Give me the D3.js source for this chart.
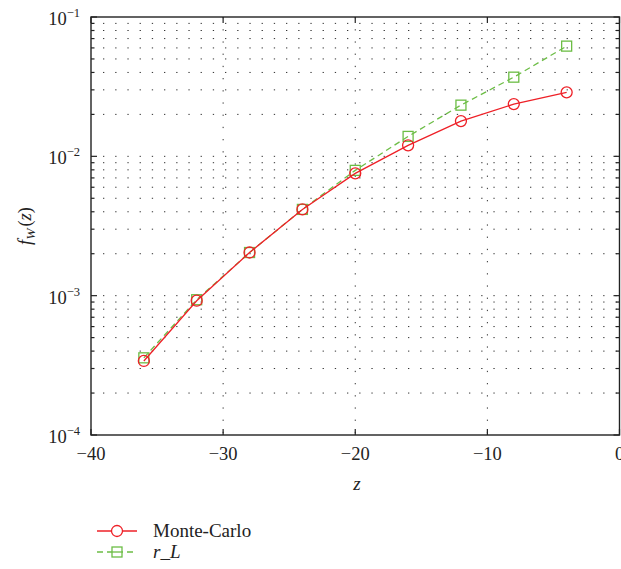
<!DOCTYPE html>
<html>
<head>
<meta charset="utf-8">
<script src="https://cdn.jsdelivr.net/npm/d3@7"></script>
<style>
  body { margin: 0; background: #fff; }
  svg text { font-family: "Liberation Serif", "DejaVu Serif", serif; fill: #222; }
</style>
</head>
<body>
<div id="chart"></div>
<script>
// data
const zValues = [-36, -32, -28, -24, -20, -16, -12, -8, -4];
const monteCarlo = [3.4e-4, 9.2e-4, 2.04e-3, 4.16e-3, 7.55e-3, 1.2e-2, 1.79e-2, 2.37e-2, 2.88e-2];
const rL = [3.58e-4, 9.35e-4, 2.04e-3, 4.16e-3, 7.93e-3, 1.39e-2, 2.33e-2, 3.7e-2, 6.18e-2];
const xTicks = [-40, -30, -20, -10, 0];
const yDecades = [-4, -3, -2, -1];

const width = 621, height = 569;
const plotL = 91, plotR = 619.5, plotT = 17, plotB = 435;
const red = "#ee2027", green = "#6cbd45";

const svg = d3.select("#chart").append("svg")
              .attr("width", width)
              .attr("height", height);

const x = d3.scaleLinear().domain([-40, 0]).range([plotL, plotR]);
const y = d3.scaleLog().domain([1e-4, 1e-1]).range([plotB, plotT]);

// grid: dotted lines at minor y values and major x ticks
const yGrid = [];
yDecades.slice(0, 3).forEach(e => {
  for (let m = 1; m <= 9; m++) yGrid.push(m * Math.pow(10, e));
});
const grid = svg.append("g");
grid.selectAll("line.h")
    .data(yGrid.filter(v => v > 1e-4))
    .enter().append("line")
    .attr("x1", plotL + 12).attr("x2", plotR)
    .attr("y1", d => y(d)).attr("y2", d => y(d))
    .attr("stroke", "#333")
    .attr("stroke-width", 1)
    .attr("stroke-dasharray", "1.3,10.9");
grid.selectAll("line.v")
    .data(xTicks.slice(1, 4))
    .enter().append("line")
    .attr("x1", d => x(d)).attr("x2", d => x(d))
    .attr("y1", plotT).attr("y2", plotB)
    .attr("stroke", "#333")
    .attr("stroke-width", 1)
    .attr("stroke-dasharray", "1.3,10.9");

// axes box
svg.append("rect")
   .attr("x", plotL).attr("y", plotT)
   .attr("width", plotR - plotL).attr("height", plotB - plotT)
   .attr("fill", "none")
   .attr("stroke", "#222")
   .attr("stroke-width", 1.4);

// ticks (inward, on all four sides)
const ticks = svg.append("g").attr("stroke", "#222").attr("stroke-width", 1.2);
xTicks.forEach(v => {
  ticks.append("line").attr("x1", x(v)).attr("x2", x(v)).attr("y1", plotB).attr("y2", plotB - 6);
  ticks.append("line").attr("x1", x(v)).attr("x2", x(v)).attr("y1", plotT).attr("y2", plotT + 6);
});
yGrid.concat([1e-1]).forEach(v => {
  const len = Math.abs(Math.log10(v) - Math.round(Math.log10(v))) < 1e-9 ? 6 : 3.5;
  ticks.append("line").attr("x1", plotL).attr("x2", plotL + len).attr("y1", y(v)).attr("y2", y(v));
  ticks.append("line").attr("x1", plotR).attr("x2", plotR - len).attr("y1", y(v)).attr("y2", y(v));
});

// tick labels
svg.append("g").selectAll("text")
   .data(xTicks)
   .enter().append("text")
   .attr("x", d => x(d))
   .attr("y", 460)
   .attr("text-anchor", "middle")
   .attr("font-size", 18.5)
   .text(d => d < 0 ? "\u2212" + Math.abs(d) : d);

yDecades.forEach(e => {
  const t = svg.append("text")
               .attr("x", 80)
               .attr("y", y(Math.pow(10, e)) + 8)
               .attr("text-anchor", "end")
               .attr("font-size", 18.5);
  t.append("tspan").text("10");
  t.append("tspan").attr("dy", -8).attr("font-size", 12.5).text("\u2212" + Math.abs(e));
});

// axis titles
svg.append("text")
   .attr("x", 357).attr("y", 490)
   .attr("text-anchor", "middle")
   .attr("font-size", 19)
   .attr("font-style", "italic")
   .text("z");

const yl = svg.append("text")
              .attr("transform", "translate(31,226) rotate(-90)")
              .attr("text-anchor", "middle")
              .attr("font-size", 18.5);
yl.append("tspan").attr("font-style", "italic").text("f");
yl.append("tspan").attr("font-style", "italic").attr("font-size", 13.5).attr("dy", 4).text("W");
yl.append("tspan").attr("dy", -4).attr("dx", 2).text("(");
yl.append("tspan").attr("font-style", "italic").text("z");
yl.append("tspan").text(")");

// series
const line = d3.line().x(d => x(d[0])).y(d => y(d[1]));
const mcData = zValues.map((z, i) => [z, monteCarlo[i]]);
const rlData = zValues.map((z, i) => [z, rL[i]]);

svg.append("path")
   .datum(rlData)
   .attr("d", line)
   .attr("fill", "none")
   .attr("stroke", green)
   .attr("stroke-width", 1.3)
   .attr("stroke-dasharray", "6,4");
svg.append("g").selectAll("rect")
   .data(rlData)
   .enter().append("rect")
   .attr("x", d => x(d[0]) - 5).attr("y", d => y(d[1]) - 5)
   .attr("width", 10).attr("height", 10)
   .attr("fill", "none")
   .attr("stroke", green)
   .attr("stroke-width", 1.3);

svg.append("path")
   .datum(mcData)
   .attr("d", line)
   .attr("fill", "none")
   .attr("stroke", red)
   .attr("stroke-width", 1.3);
svg.append("g").selectAll("circle")
   .data(mcData)
   .enter().append("circle")
   .attr("cx", d => x(d[0])).attr("cy", d => y(d[1]))
   .attr("r", 5.5)
   .attr("fill", "none")
   .attr("stroke", red)
   .attr("stroke-width", 1.3);

// legend
const lg = svg.append("g");
lg.append("line").attr("x1", 97).attr("x2", 137).attr("y1", 531).attr("y2", 531)
  .attr("stroke", red).attr("stroke-width", 1.3);
lg.append("circle").attr("cx", 117).attr("cy", 531).attr("r", 5.5)
  .attr("fill", "#fff").attr("stroke", red).attr("stroke-width", 1.3);
lg.append("text").attr("x", 153).attr("y", 537).attr("font-size", 19).text("Monte-Carlo");

lg.append("line").attr("x1", 97).attr("x2", 137).attr("y1", 552).attr("y2", 552)
  .attr("stroke", green).attr("stroke-width", 1.3).attr("stroke-dasharray", "6,4");
lg.append("rect").attr("x", 112).attr("y", 547).attr("width", 10).attr("height", 10)
  .attr("fill", "#fff").attr("stroke", green).attr("stroke-width", 1.3);
lg.append("line").attr("x1", 112).attr("x2", 122).attr("y1", 552).attr("y2", 552)
  .attr("stroke", green).attr("stroke-width", 1.3);
const rt = lg.append("text").attr("x", 153).attr("y", 558).attr("font-size", 19).attr("font-style", "italic");
rt.append("tspan").text("r");
rt.append("tspan").attr("font-style", "normal").text("_");
rt.append("tspan").text("L");
</script>
</body>
</html>
